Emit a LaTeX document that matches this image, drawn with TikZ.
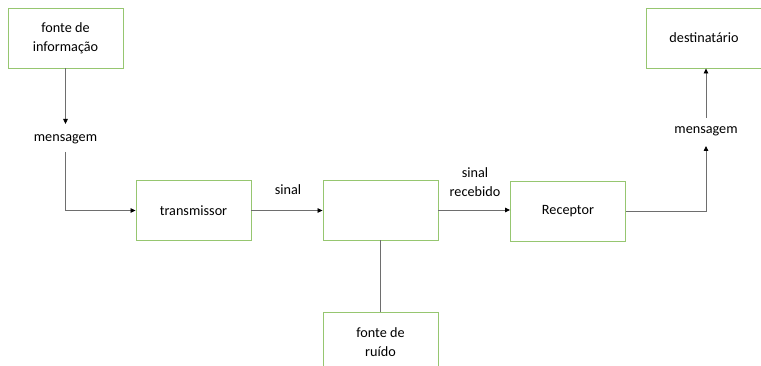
\documentclass[tikz,border=0pt]{standalone}
\usepackage{fontspec}
\setmainfont{Carlito}
\usetikzlibrary{arrows.meta}
\definecolor{boxgreen}{RGB}{150,198,112}
\definecolor{linegray}{RGB}{110,110,110}
\begin{document}
\begin{tikzpicture}[x=1pt,y=-1pt,
  box/.style={draw=boxgreen,line width=0.9pt,minimum width=115pt,minimum height=60pt,inner sep=0pt,align=center,font=\fontsize{14.2}{19}\selectfont},
  lbl/.style={align=center,inner sep=1pt,font=\fontsize{14.2}{19}\selectfont},
  conn/.style={draw=linegray,line width=0.8pt},
  arr/.style={conn,-{Triangle[length=5pt,width=4.5pt,color=black]}}]
\useasboundingbox (0,0) rectangle (761,366);
\begin{scope}
\clip (0,0) rectangle (761,366);
\node[box] (fonte) at (65.5,38) {fonte de\\informação};
\node[box] (trans) at (193.5,210.5) {transmissor};
\node[box] (canal) at (380.5,210) {};
\node[box] (rec) at (568,211) {Receptor};
\node[box] (dest) at (704,38) {destinatário};
\node[box] (ruido) at (380.5,342) {fonte de\\ruído};
\end{scope}
\node[lbl] (msg1) at (65.5,139.5) {mensagem};
\node[lbl] (sinal) at (288,189.5) {sinal};
\node[lbl] (sinalrec) at (475,182.5) {sinal\\recebido};
\node[lbl] (msg2) at (706,131.5) {mensagem};
\coordinate (m1top) at (65.5,124);
\coordinate (m1bot) at (65.5,152);
\coordinate (m2bot) at (706,146);
\coordinate (m2top) at (706,118);
\draw[arr] (fonte.south -| m1top) -- (m1top);
\draw[arr] (m1bot) |- (trans.west);
\draw[arr] (trans.east) -- (canal.west |- trans.east);
\draw[arr] (canal.east) -- (rec.west |- canal.east);
\draw[arr] (rec.east) -| (m2bot);
\draw[arr] (m2top) -- (dest.south -| m2top);
\draw[conn] (canal.south) -- (ruido.north);
\end{tikzpicture}
\end{document}
